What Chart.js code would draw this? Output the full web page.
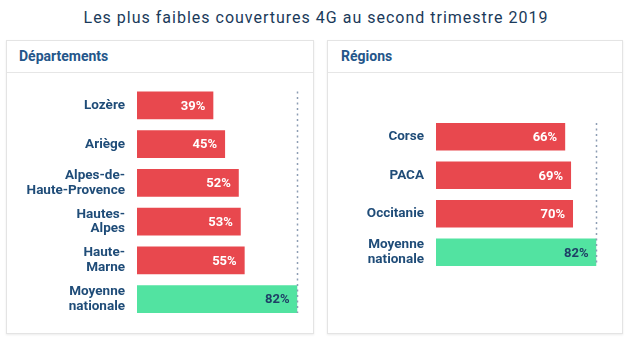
<!DOCTYPE html>
<html>
<head>
<meta charset="utf-8">
<script src="https://cdn.jsdelivr.net/npm/chart.js@4"></script>
<style>
  html, body { margin:0; padding:0; background:#fff; }
  body { width:632px; height:345px; position:relative; overflow:hidden; font-family: Roboto, "Noto Sans", sans-serif; }
  #title { position:absolute; left:0; top:7px; width:632px; text-align:center; font-size:16px; letter-spacing:1px; color:#1a3a5a; line-height:22px; }
  .panel { position:absolute; top:40px; height:294px; border:1px solid #e4e4e4; box-shadow:0 1px 2px rgba(0,0,0,0.08); background:#fff; box-sizing:border-box; }
  .panel .hdr { position:absolute; left:0; top:0; right:0; height:31px; border-bottom:1px solid #e6e6e6; font-weight:700; font-size:14px; color:#24568a; line-height:31px; padding-left:11px; }
  canvas { position:absolute; top:0; }
</style>
</head>
<body>
<div id="title">Les plus faibles couvertures 4G au second trimestre 2019</div>
<div class="panel" style="left:6px; width:308px;"><div class="hdr" style="padding-left:12px;">Départements</div></div>
<div class="panel" style="left:327px; width:296px;"><div class="hdr" style="padding-left:13px;">Régions</div></div>
<canvas id="c1" style="left:0px; width:320px; height:345px;" width="320" height="345"></canvas>
<canvas id="c2" style="left:320px; width:312px; height:345px;" width="312" height="345"></canvas>
<script>
const depLabels = [['Lozère'], ['Ariège'], ['Alpes-de-', 'Haute-Provence'], ['Hautes-', 'Alpes'], ['Haute-', 'Marne'], ['Moyenne', 'nationale']];
const depValues = [39, 45, 52, 53, 55, 82];
const regLabels = [['Corse'], ['PACA'], ['Occitanie'], ['Moyenne', 'nationale']];
const regValues = [66, 69, 70, 82];
const nationalAverage = 82;

const RED = '#e8484e';
const GREEN = '#52e3a1';
const LABEL = '#1f4c78';

const valueLabels = {
  id: 'valueLabels',
  afterDatasetsDraw(chart) {
    const ctx = chart.ctx;
    const meta = chart.getDatasetMeta(0);
    const data = chart.data.datasets[0].data;
    const n = data.length;
    ctx.save();
    // dotted reference line
    const xs = chart.scales.x;
    const x = Math.round(xs.getPixelForValue(nationalAverage)) - 0.5;
    const first = meta.data[0], last = meta.data[n - 1];
    ctx.strokeStyle = '#8d9db3';
    ctx.lineWidth = 1.5;
    ctx.setLineDash([2, 3.5]);
    ctx.beginPath();
    ctx.moveTo(x, first.y - first.height / 2);
    ctx.lineTo(x, last.y + last.height / 2);
    ctx.stroke();
    ctx.setLineDash([]);
    ctx.font = '700 13px Roboto, "Noto Sans", sans-serif';
    ctx.textAlign = 'right';
    ctx.textBaseline = 'middle';
    meta.data.forEach((bar, i) => {
      ctx.fillStyle = i === n - 1 ? '#1f3f66' : '#ffffff';
      ctx.fillText(data[i] + '%', bar.x - 8, bar.y + 1);
    });
    ctx.restore();
  }
};

function makeChart(id, labels, values, yWidth, pad) {
  return new Chart(document.getElementById(id), {
    type: 'bar',
    data: {
      labels: labels,
      datasets: [{
        data: values,
        backgroundColor: values.map((v, i) => i === values.length - 1 ? GREEN : RED),
        borderWidth: 0,
        categoryPercentage: 1,
        barPercentage: 0.72
      }]
    },
    options: {
      indexAxis: 'y',
      responsive: false,
      animation: false,
      events: [],
      layout: { padding: pad },
      plugins: { legend: { display: false }, tooltip: { enabled: false } },
      scales: {
        x: { display: false, min: 0, max: nationalAverage },
        y: {
          grid: { display: false, drawTicks: false },
          border: { display: false },
          afterFit(scale) { scale.width = yWidth; },
          ticks: {
            padding: 12,
            color: LABEL,
            font: { family: 'Roboto, "Noto Sans", sans-serif', size: 13.5, weight: '700', lineHeight: 1.11 }
          }
        }
      }
    },
    plugins: [valueLabels]
  });
}

makeChart('c1', depLabels, depValues, 137, { left: 0, right: 22.5, top: 86, bottom: 26.5 });
makeChart('c2', regLabels, regValues, 116, { left: 0, right: 35.5, top: 117.5, bottom: 73.5 });
</script>
</body>
</html>
